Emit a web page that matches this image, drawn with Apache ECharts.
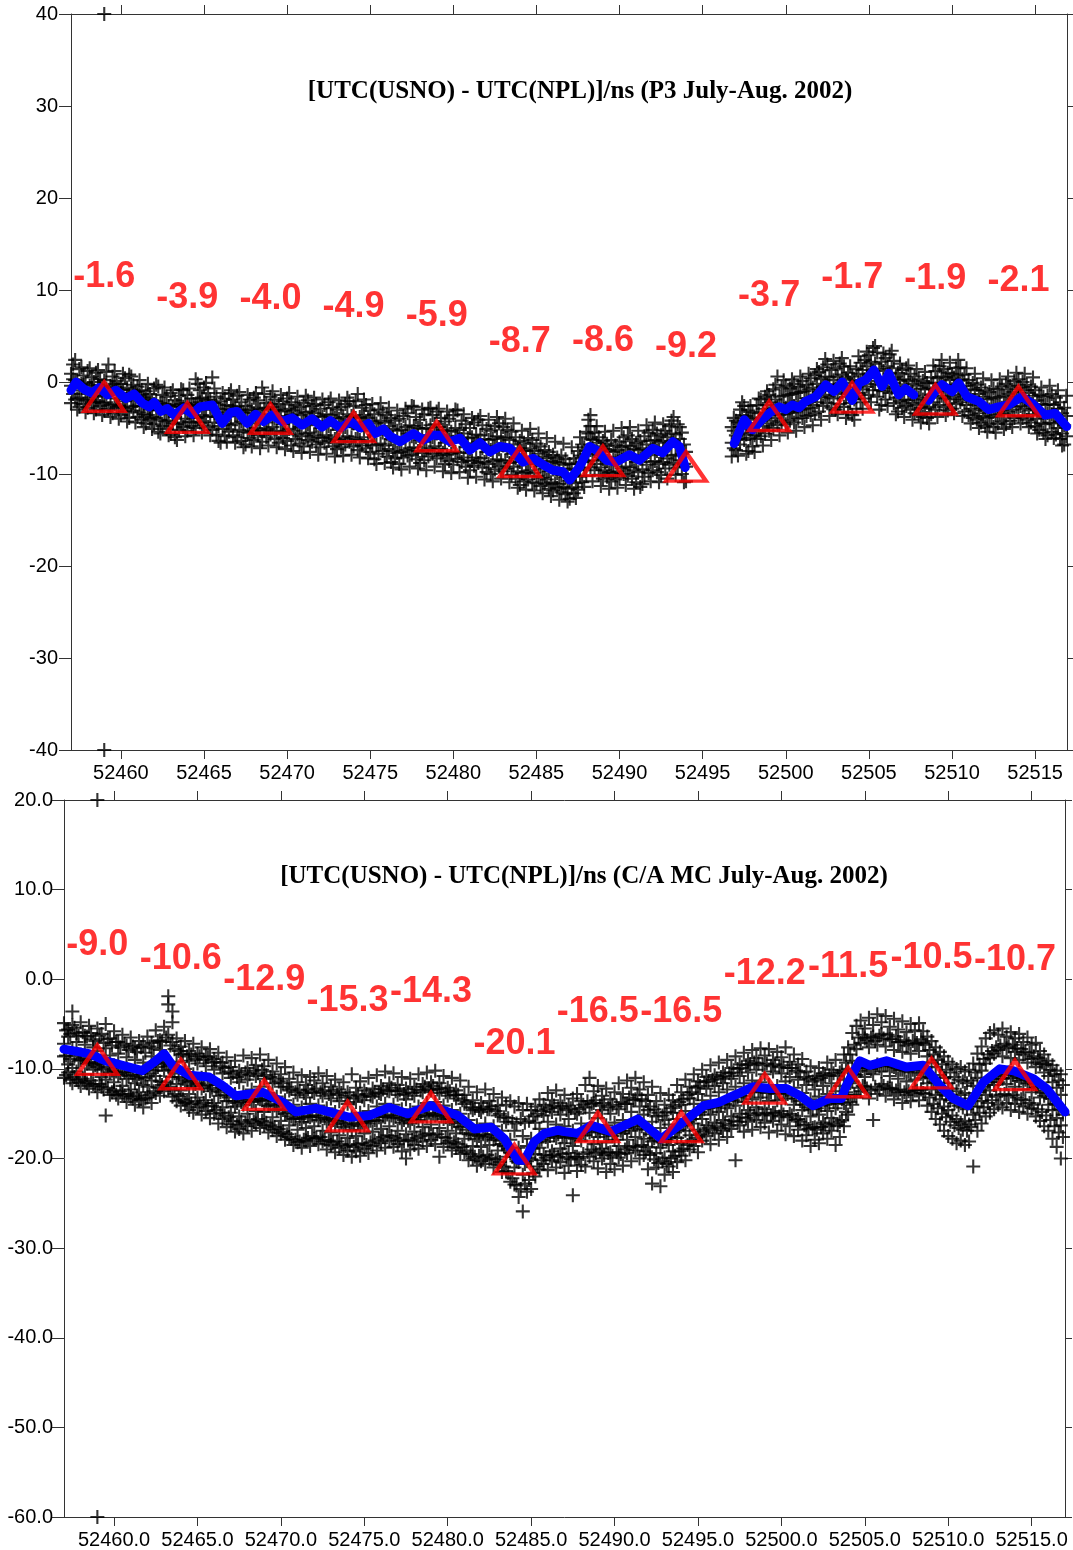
<!DOCTYPE html>
<html><head><meta charset="utf-8">
<script src="https://cdn.jsdelivr.net/npm/echarts@6/dist/echarts.min.js"></script>
<style>html,body{margin:0;padding:0;background:#fff}#c{width:1073px;height:1550px}</style>
</head><body><div id="c"></div>
<script>
const xTicks = [52460,52465,52470,52475,52480,52485,52490,52495,52500,52505,52510,52515];
const triDays = [52459,52464,52469,52474,52479,52484,52489,52494,52499,52504,52509,52514];
const p3Tri = [-1.6,-3.9,-4.0,-4.9,-5.9,-8.7,-8.6,-9.2,-3.7,-1.7,-1.9,-2.1];
const caTri = [-9.0,-10.6,-12.9,-15.3,-14.3,-20.1,-16.5,-16.5,-12.2,-11.5,-10.5,-10.7];
const p3Title = '[UTC(USNO) - UTC(NPL)]/ns (P3 July-Aug. 2002)';
const caTitle = '[UTC(USNO) - UTC(NPL)]/ns (C/A MC July-Aug. 2002)';

const p3Line = [[52457.0,-0.9],[52457.3,0.0],[52457.8,-0.8],[52458.25,-1.2],[52458.7,-0.6],[52459.2,-1.4],[52459.7,-0.9],[52460.3,-1.8],[52460.8,-1.3],[52461.3,-2.3],[52461.7,-2.7],[52462.0,-2.2],[52462.4,-3.2],[52462.8,-2.9],[52463.2,-3.6],[52463.8,-2.8],[52464.3,-3.5],[52464.75,-2.7],[52465.5,-2.5],[52466.1,-4.5],[52466.6,-3.3],[52467.0,-3.2],[52467.6,-4.5],[52468.1,-3.5],[52468.6,-4.3],[52469.1,-3.6],[52469.7,-4.3],[52470.3,-3.9],[52470.9,-4.7],[52471.5,-4.0],[52472.1,-4.9],[52472.6,-4.2],[52473.2,-5.0],[52473.8,-4.3],[52474.4,-5.0],[52474.9,-4.5],[52475.3,-5.6],[52475.8,-5.1],[52476.2,-5.9],[52476.8,-6.5],[52477.6,-5.6],[52478.2,-6.3],[52478.7,-5.8],[52479.2,-5.8],[52479.8,-6.5],[52480.4,-6.1],[52481.0,-7.4],[52481.6,-6.6],[52482.2,-7.6],[52482.8,-7.0],[52483.4,-7.2],[52484.2,-8.7],[52484.8,-8.3],[52485.4,-9.0],[52486.0,-9.6],[52486.6,-9.75],[52487.0,-10.65],[52487.6,-9.2],[52488.2,-7.0],[52488.6,-7.4],[52489.2,-8.5],[52489.8,-8.7],[52490.6,-7.9],[52491.2,-8.5],[52492.0,-7.2],[52492.6,-7.7],[52493.2,-6.5],[52493.6,-7.0],[52493.95,-9.3],
[52495.5,'-'],
[52496.9,-6.7],[52497.5,-4.1],[52498.0,-5.2],[52498.5,-4.2],[52499.0,-3.4],[52499.6,-2.7],[52500.0,-3.0],[52500.4,-2.5],[52500.8,-2.8],[52501.2,-2.1],[52501.8,-1.6],[52502.4,-0.3],[52502.9,-1.05],[52503.4,0.0],[52504.0,-2.0],[52504.4,-0.1],[52504.8,0.2],[52505.3,1.3],[52505.8,-0.5],[52506.2,0.95],[52506.8,-1.4],[52507.2,-0.7],[52507.7,-1.4],
[52508.1,'-'],
[52508.6,-2.0],[52509.0,-1.0],[52509.4,-0.3],[52510.0,-1.05],[52510.4,-0.1],[52510.9,-1.6],[52511.6,-2.1],[52512.2,-3.0],[52512.8,-2.7],[52513.4,-2.5],[52514.2,-1.6],[52514.8,-2.3],[52515.6,-3.6],[52516.2,-3.4],[52516.9,-4.85]];

const caLine = [[52457.0,-7.8],[52458.5,-8.3],[52459.5,-9.1],[52460.5,-9.6],[52461.7,-10.2],[52462.5,-9.1],[52463.0,-8.3],[52463.5,-9.6],[52464.5,-10.7],[52465.7,-10.9],[52466.5,-11.85],[52467.3,-13.0],[52468.1,-12.8],[52468.9,-12.6],[52470.1,-13.7],[52470.9,-14.8],[52472.1,-14.4],[52472.9,-14.8],[52474.1,-15.4],[52475.3,-15.2],[52476.5,-14.3],[52477.6,-15.0],[52479.0,-14.1],[52480.6,-15.2],[52481.6,-16.7],[52482.6,-16.5],[52483.4,-17.8],[52484.2,-20.2],[52484.6,-20.2],[52485.2,-18.1],[52485.8,-17.2],[52486.6,-16.85],[52487.0,-17.0],[52487.8,-17.2],[52488.6,-16.3],[52489.8,-17.0],[52491.4,-15.6],[52492.8,-17.8],[52494.0,-16.1],[52495.35,-14.1],[52496.3,-13.7],[52497.0,-13.1],[52498.3,-12.0],[52499.3,-12.2],[52500.3,-12.2],[52501.1,-12.96],[52501.9,-14.1],[52502.9,-13.3],[52503.6,-13.3],[52503.9,-11.85],[52504.7,-9.1],[52505.3,-9.6],[52506.3,-9.1],[52507.5,-9.8],[52508.5,-9.6],[52509.5,-11.85],[52510.3,-13.3],[52511.2,-14.1],[52512.1,-11.5],[52513.1,-10.0],[52513.9,-10.2],[52515.1,-11.1],[52515.9,-12.2],[52517.0,-14.8]];

const p3Clipped = [[52459.0,40],[52459.0,-40]];
const caClipped = [[52459.0,20],[52459.0,-60]];

const p3Rows = [
[52457.00,0.9,-0.4,-2.3],[52457.25,2.4,0.2,-1.9],[52457.50,1.4,-0.9,-2.7],[52457.75,0.7,-0.3,-2.4],
[52458.00,1.2,-1.3,-2.8],[52458.25,0.5,-0.7,-2.2],[52458.50,1.0,-1.6,-3.0],[52458.75,0.3,-0.8,-2.6],
[52459.00,0.2,-1.5,-3.1],[52459.25,1.9,-1.1,-2.9],[52459.50,0.6,-0.6,-3.4],[52459.75,0.1,-1.8,-2.7],
[52460.00,-0.2,-1.2,-3.6],[52460.25,0.4,-2.1,-3.2],[52460.50,0.8,-1.4,-3.9],[52460.75,-0.3,-2.0,-3.1],
[52461.00,-0.5,-1.6,-3.8],[52461.25,-0.9,-2.6,-4.1],[52461.50,-1.0,-2.2,-4.5],[52461.75,-1.3,-3.0,-4.0],
[52462.00,-0.7,-2.4,-4.6],[52462.25,-0.5,-3.1,-5.4],[52462.50,-1.4,-2.8,-4.8],[52462.75,-1.6,-3.5,-5.1],
[52463.00,-1.2,-3.0,-5.6],[52463.25,-2.0,-3.8,-6.0],[52463.50,-1.5,-3.2,-5.2],[52463.75,-0.9,-2.7,-4.9],
[52464.00,-1.4,-3.4,-5.3],[52464.25,-1.8,-3.1,-4.8],[52464.50,0.3,-2.6,-5.0],[52464.75,-0.9,-2.2,-4.4],
[52465.00,-0.6,-3.0,-4.7],[52465.25,-1.2,-2.3,-4.9],[52465.50,0.5,-2.9,-5.2],[52465.75,-1.6,-3.8,-5.7],
[52466.00,-2.1,-4.0,-6.6],[52466.25,-1.8,-3.3,-5.9],[52466.50,-1.3,-3.6,-5.4],[52466.75,-1.9,-3.1,-5.8],
[52467.00,-1.5,-3.7,-6.0],[52467.25,-2.2,-4.3,-6.4],[52467.50,-2.6,-4.0,-6.8],[52467.75,-1.9,-4.5,-6.1],
[52468.00,-1.7,-3.4,-6.3],[52468.25,-2.0,-4.1,-5.8],[52468.50,-0.6,-3.8,-6.5],[52468.75,-2.3,-4.4,-6.0],
[52469.00,-1.6,-3.5,-5.7],[52469.25,-1.9,-4.0,-6.2],[52469.50,-2.4,-3.7,-6.6],[52469.75,-2.1,-4.6,-6.1],
[52470.00,-1.8,-3.9,-6.4],[52470.25,-2.2,-3.6,-6.9],[52470.50,-2.5,-4.4,-6.2],[52470.75,-2.7,-4.9,-6.7],
[52471.00,-2.3,-4.2,-7.0],[52471.25,-2.0,-4.6,-6.3],[52471.50,-2.6,-3.8,-6.5],[52471.75,-2.4,-4.7,-6.8],
[52472.00,-2.9,-5.0,-7.1],[52472.25,-2.5,-4.3,-6.6],[52472.50,-2.2,-4.8,-6.4],[52472.75,-2.8,-4.5,-7.0],
[52473.00,-3.0,-5.2,-7.3],[52473.25,-2.7,-4.6,-7.1],[52473.50,-2.4,-4.9,-6.8],[52473.75,-2.1,-4.2,-6.5],
[52474.00,-2.6,-4.5,-7.0],[52474.25,-1.3,-5.1,-7.4],[52474.50,-2.8,-4.7,-6.9],[52474.75,-2.5,-4.4,-7.2],
[52475.00,-3.1,-5.3,-7.6],[52475.25,-3.5,-5.8,-8.4],[52475.50,-3.0,-5.1,-7.8],[52475.75,-3.3,-5.5,-7.5],
[52476.00,-3.6,-5.7,-8.1],[52476.25,-3.9,-6.2,-8.7],[52476.50,-4.2,-6.4,-8.3],[52476.75,-4.0,-6.6,-8.9],
[52477.00,-3.7,-6.1,-8.2],[52477.25,-3.4,-5.6,-8.0],[52477.50,-2.6,-5.9,-7.9],[52477.75,-3.8,-6.0,-8.4],
[52478.00,-4.1,-6.3,-8.8],[52478.25,-3.5,-6.5,-8.5],[52478.50,-2.9,-5.8,-8.1],[52478.75,-3.6,-6.0,-7.8],
[52479.00,-3.2,-5.6,-8.3],[52479.25,-3.9,-6.2,-8.0],[52479.50,-4.3,-6.6,-8.9],[52479.75,-4.0,-6.3,-8.6],
[52480.00,-3.6,-6.5,-9.0],[52480.25,-3.1,-5.9,-8.4],[52480.50,-4.2,-6.2,-8.7],[52480.75,-4.6,-7.1,-9.2],
[52481.00,-5.0,-7.3,-9.6],[52481.25,-4.4,-6.8,-9.1],[52481.50,-4.1,-6.5,-8.8],[52481.75,-4.7,-7.2,-9.3],
[52482.00,-5.1,-7.6,-9.8],[52482.25,-5.3,-7.4,-10.0],[52482.50,-4.8,-7.0,-9.5],[52482.75,-4.5,-7.3,-9.2],
[52483.00,-4.9,-6.9,-9.7],[52483.25,-5.2,-7.5,-9.4],[52483.50,-5.4,-7.8,-10.1],[52483.75,-6.0,-8.3,-10.5],
[52484.00,-6.4,-8.7,-11.2],[52484.25,-6.6,-8.4,-10.8],[52484.50,-6.1,-8.9,-10.6],[52484.75,-6.3,-8.2,-10.9],
[52485.00,-6.7,-8.8,-11.0],[52485.25,-7.0,-9.1,-11.3],[52485.50,-7.4,-9.4,-11.1],[52485.75,-7.6,-9.7,-11.6],
[52486.00,-7.9,-9.5,-11.8],[52486.25,-8.2,-9.9,-11.5],[52486.50,-8.0,-10.1,-12.0],[52486.75,-8.4,-10.3,-12.2],
[52487.00,-8.9,-10.7,-12.7],[52487.25,-8.3,-10.2,-12.1],[52487.50,-7.5,-9.6,-11.7],[52487.75,-6.8,-8.7,-10.9],
[52488.00,-5.4,-7.8,-10.2],[52488.25,-3.6,-4.8,-6.2,-7.4,-9.3],[52488.50,-5.5,-7.5,-9.6],[52488.75,-6.0,-7.9,-10.1],
[52489.00,-6.4,-8.4,-10.5],[52489.25,-6.7,-8.6,-10.3],[52489.50,-6.3,-8.8,-10.8],[52489.75,-6.9,-8.5,-10.6],
[52490.00,-6.5,-8.2,-10.4],[52490.25,-6.0,-8.0,-10.0],[52490.50,-5.8,-7.8,-10.2],[52490.75,-6.2,-8.4,-10.5],
[52491.00,-6.6,-8.7,-10.9],[52491.25,-6.4,-8.3,-11.4],[52491.50,-5.9,-8.0,-10.3],[52491.75,-5.5,-7.6,-9.9],
[52492.00,-5.2,-7.3,-9.6],[52492.25,-5.6,-7.5,-9.8],[52492.50,-5.8,-7.9,-10.1],[52492.75,-5.3,-7.1,-9.4],
[52493.00,-4.8,-6.9,-9.0],[52493.25,-3.8,-6.4,-8.8],[52493.50,-4.6,-6.9,-9.3],[52493.75,-5.5,-7.8,-10.0],
[52494.00,-7.6,-9.2,-10.8],
[52496.75,-4.9,-6.6,-8.1],[52497.00,-4.2,-5.8,-7.4],[52497.25,-3.0,-4.9,-6.8],[52497.50,-2.6,-4.4,-6.3],
[52497.75,-3.1,-4.8,-7.5],[52498.00,-3.3,-5.2,-7.0],[52498.25,-2.5,-4.5,-6.2],[52498.50,-1.9,-4.0,-5.9],
[52498.75,-1.6,-3.6,-5.6],[52499.00,-1.4,-3.4,-5.3],[52499.25,-0.8,-3.0,-5.0],[52499.50,0.6,-2.7,-4.7],
[52499.75,-0.6,-2.5,-4.4],[52500.00,-0.4,-2.8,-4.6],[52500.25,-0.7,-2.3,-4.2],[52500.50,-0.2,-2.6,-4.4],
[52500.75,-0.5,-2.1,-4.0],[52501.00,0.1,-2.4,-3.9],[52501.25,-0.3,-1.8,-3.7],[52501.50,0.4,-2.0,-3.6],
[52501.75,0.7,-1.5,-3.4],[52502.00,1.1,-1.1,-3.2],[52502.25,1.6,-0.5,-2.6],[52502.50,1.9,-0.3,-2.3],
[52502.75,1.3,-0.9,-2.8],[52503.00,1.5,-0.7,-3.0],[52503.25,2.0,-0.2,-2.4],[52503.50,1.7,-0.4,-2.7],
[52503.75,1.0,-1.2,-3.3],[52504.00,0.6,-1.5,-3.6],[52504.25,1.4,-0.6,-2.9],[52504.50,2.1,0.1,-2.2],
[52504.75,2.4,0.3,-1.8],[52505.00,2.9,0.8,-1.4],[52505.25,3.7,1.2,-0.9],[52505.50,3.2,0.4,-1.6],
[52505.75,2.2,-0.3,-2.5],[52506.00,2.6,0.2,-1.9],[52506.25,3.0,0.9,-1.2],[52506.50,2.3,-0.1,-2.3],
[52506.75,1.0,-1.1,-3.2],[52507.00,1.3,-0.9,-2.8],[52507.25,1.5,-0.6,-2.6],[52507.50,0.9,-1.3,-3.0],
[52507.75,0.6,-1.5,-3.4],[52508.00,0.3,-1.7,-3.6],[52508.25,0.1,-1.9,-3.8],[52508.50,-0.1,-2.0,-3.9],
[52508.75,0.5,-1.4,-3.5],[52509.00,1.2,-0.8,-3.0],[52509.25,1.7,-0.4,-2.5],[52509.50,1.4,-0.6,-2.7],
[52509.75,1.0,-1.0,-3.1],[52510.00,0.9,-0.8,-2.9],[52510.25,1.5,-0.3,-2.4],[52510.50,1.6,-0.5,-2.2],
[52510.75,0.8,-1.3,-3.2],[52511.00,0.2,-1.8,-3.6],[52511.25,-0.1,-2.0,-3.9],[52511.50,-0.3,-2.2,-4.1],
[52511.75,-0.6,-2.5,-4.4],[52512.00,-0.9,-2.9,-4.8],[52512.25,-1.1,-3.0,-4.6],[52512.50,-0.7,-2.7,-4.9],
[52512.75,-0.8,-2.6,-4.5],[52513.00,-0.5,-2.8,-4.3],[52513.25,-0.2,-2.4,-4.6],[52513.50,-0.4,-2.2,-4.2],
[52513.75,0.1,-1.9,-3.9],[52514.00,0.3,-1.6,-3.7],[52514.25,0.0,-1.8,-3.9],[52514.50,-0.3,-2.2,-4.1],
[52514.75,-0.5,-2.4,-4.4],[52515.00,-0.9,-2.9,-4.8],[52515.25,-1.4,-3.3,-5.2],[52515.50,-1.6,-3.7,-5.5],
[52515.75,-1.5,-3.4,-5.8],[52516.00,-1.3,-3.5,-5.4],[52516.25,-1.7,-3.6,-5.7],[52516.50,-2.2,-4.3,-6.2],
[52516.75,-2.8,-4.7,-6.8]
];

const p3RowsMid = [
[52457.125,0.3,-1.3,1.9],[52457.375,0.1,-1.8,-3.0],[52457.625,-0.2,-1.7,1.6],[52457.875,-0.1,-2.0,-3.3],
[52458.125,-0.4,-1.9,1.5],[52458.375,0.0,-2.2,-3.4],[52458.625,-0.3,-2.1,1.3],[52458.875,-0.5,-2.3,-3.6],
[52459.125,-0.7,-2.2,1.1],[52459.375,-0.4,-2.5,-3.8],[52459.625,-0.2,-2.4,1.2],[52459.875,-0.8,-2.6,-4.0],
[52460.125,-0.9,-2.8,0.9],[52460.375,-0.6,-2.9,-4.3],[52460.625,-0.8,-2.7,0.6],[52460.875,-1.1,-2.6,-4.4],
[52461.125,-1.4,-3.3,0.2],[52461.375,-1.7,-3.5,-4.9],[52461.625,-1.9,-3.6,-0.2],[52461.875,-2.0,-3.8,-5.1],
[52462.125,-2.1,-3.9,-0.3],[52462.375,-2.3,-4.1,-5.6],[52462.625,-2.4,-4.3,-0.6],[52462.875,-2.6,-4.2,-5.8],
[52463.125,-2.7,-4.5,-0.9],[52463.375,-2.5,-4.6,-6.3],[52463.625,-2.4,-4.4,-0.8],[52463.875,-2.3,-4.0,-5.9],
[52464.125,-2.5,-4.3,-0.7],[52464.375,-2.4,-4.4,-5.8],[52464.625,-1.8,-3.9,-0.2],[52464.875,-1.7,-3.6,-5.5],
[52465.125,-2.0,-3.8,-0.1],[52465.375,-1.9,-3.7,-5.8],[52465.625,-2.3,-4.4,-0.7],[52465.875,-2.9,-4.8,-6.4],
[52466.125,-3.0,-5.1,-1.2],[52466.375,-2.5,-4.6,-6.5],[52466.625,-2.6,-4.7,-0.9],[52466.875,-2.7,-4.5,-6.6],
[52467.125,-3.0,-5.2,-1.1],[52467.375,-3.3,-5.4,-7.1],[52467.625,-3.1,-5.5,-1.4],[52467.875,-3.0,-5.3,-7.0],
[52468.125,-2.8,-5.0,-1.2],[52468.375,-3.0,-5.2,-7.2],[52468.625,-2.9,-5.3,-1.3],[52468.875,-2.8,-5.1,-6.9],
[52469.125,-2.7,-4.9,-1.0],[52469.375,-3.0,-5.3,-7.1],[52469.625,-3.2,-5.4,-1.4],[52469.875,-3.1,-5.5,-7.3],
[52470.125,-2.9,-5.1,-1.2],[52470.375,-3.1,-5.3,-7.5],[52470.625,-3.4,-5.7,-1.6],[52470.875,-3.6,-5.9,-7.7],
[52471.125,-3.3,-5.6,-1.5],[52471.375,-3.2,-5.5,-7.6],[52471.625,-3.4,-5.8,-1.7],[52471.875,-3.7,-6.0,-7.9],
[52472.125,-3.8,-6.1,-1.9],[52472.375,-3.5,-5.8,-7.8],[52472.625,-3.6,-6.0,-1.8],[52472.875,-3.9,-6.2,-8.1],
[52473.125,-4.0,-6.3,-2.0],[52473.375,-3.8,-6.1,-8.0],[52473.625,-3.5,-5.9,-1.7],[52473.875,-3.7,-6.0,-7.9],
[52474.125,-3.9,-6.2,-2.1],[52474.375,-3.8,-6.3,-8.2],[52474.625,-3.6,-6.0,-1.9],[52474.875,-3.9,-6.4,-8.3],
[52475.125,-4.3,-6.9,-2.4],[52475.375,-4.5,-6.8,-8.9],[52475.625,-4.2,-6.7,-2.3],[52475.875,-4.4,-6.9,-8.8],
[52476.125,-4.8,-7.3,-2.8],[52476.375,-5.1,-7.5,-9.3],[52476.625,-5.3,-7.7,-3.1],[52476.875,-5.2,-7.6,-9.5],
[52477.125,-4.9,-7.4,-2.9],[52477.375,-4.7,-7.2,-9.2],[52477.625,-4.8,-7.1,-2.7],[52477.875,-5.0,-7.5,-9.4],
[52478.125,-5.1,-7.7,-3.0],[52478.375,-5.0,-7.4,-9.6],[52478.625,-4.7,-7.2,-2.8],[52478.875,-4.6,-7.0,-9.2],
[52479.125,-4.9,-7.3,-2.9],[52479.375,-5.2,-7.7,-9.7],[52479.625,-5.3,-7.9,-3.2],[52479.875,-5.4,-7.8,-9.9],
[52480.125,-5.0,-7.6,-3.0],[52480.375,-5.2,-7.7,-9.8],[52480.625,-5.6,-8.2,-3.5],[52480.875,-6.1,-8.5,-10.4],
[52481.125,-6.0,-8.6,-3.9],[52481.375,-5.7,-8.2,-10.3],[52481.625,-5.8,-8.3,-3.7],[52481.875,-6.2,-8.7,-10.6],
[52482.125,-6.3,-8.9,-4.1],[52482.375,-6.2,-8.6,-10.8],[52482.625,-5.9,-8.4,-3.8],[52482.875,-6.0,-8.5,-10.5],
[52483.125,-6.1,-8.6,-4.0],[52483.375,-6.3,-8.8,-10.9],[52483.625,-6.8,-9.2,-4.5],[52483.875,-7.2,-9.7,-11.5],
[52484.125,-7.5,-9.9,-5.3],[52484.375,-7.4,-9.8,-11.7],[52484.625,-7.2,-9.6,-5.1],[52484.875,-7.5,-9.9,-11.8],
[52485.125,-7.8,-10.2,-5.6],[52485.375,-8.1,-10.4,-12.1],[52485.625,-8.3,-10.6,-6.1],[52485.875,-8.6,-10.9,-12.4],
[52486.125,-8.7,-11.0,-6.5],[52486.375,-8.8,-11.1,-12.8],[52486.625,-9.0,-11.4,-6.7],[52486.875,-9.5,-11.6,-13.0],
[52487.125,-9.4,-11.5,-7.1],[52487.375,-8.9,-11.0,-12.6],[52487.625,-8.0,-10.3,-6.0],[52487.875,-7.1,-9.4,-11.4],
[52488.125,-4.1,-5.6,-8.6],[52488.375,-6.3,-8.5,-10.8],[52488.625,-6.6,-8.9,-4.8],[52488.875,-7.0,-9.3,-11.3],
[52489.125,-7.3,-9.6,-5.4],[52489.375,-7.5,-9.8,-11.6],[52489.625,-7.6,-9.9,-5.3],[52489.875,-7.4,-9.7,-11.5],
[52490.125,-7.1,-9.4,-5.0],[52490.375,-6.9,-9.2,-11.2],[52490.625,-7.0,-9.3,-4.9],[52490.875,-7.3,-9.6,-11.6],
[52491.125,-7.4,-9.8,-5.3],[52491.375,-7.2,-9.5,-11.1],[52491.625,-6.8,-9.0,-4.7],[52491.875,-6.4,-8.7,-10.8],
[52492.125,-6.3,-8.6,-4.4],[52492.375,-6.6,-8.9,-10.9],[52492.625,-6.4,-8.7,-4.6],[52492.875,-6.0,-8.3,-10.5],
[52493.125,-5.6,-8.0,-4.2],[52493.375,-5.7,-7.9,-10.1],[52493.625,-6.2,-8.5,-4.9],[52493.875,-6.8,-8.9,-10.9],
[52496.875,-5.3,-7.2,-3.9],[52497.125,-4.4,-6.2,-8.0],[52497.375,-3.6,-5.5,-2.2],[52497.625,-3.7,-5.7,-7.8],
[52497.875,-4.1,-6.1,-2.6],[52498.125,-3.9,-5.8,-7.6],[52498.375,-3.4,-5.3,-1.8],[52498.625,-2.9,-4.8,-6.9],
[52498.875,-2.5,-4.5,-1.0],[52499.125,-2.2,-4.2,-6.3],[52499.375,-1.9,-3.9,-0.3],[52499.625,-1.6,-3.6,-5.8],
[52499.875,-1.5,-3.5,0.2],[52500.125,-1.4,-3.4,-5.5],[52500.375,-1.3,-3.3,0.3],[52500.625,-1.2,-3.2,-5.3],
[52500.875,-1.1,-3.0,0.6],[52501.125,-1.0,-2.9,-4.9],[52501.375,-0.8,-2.8,0.9],[52501.625,-0.6,-2.5,-4.7],
[52501.875,-0.2,-2.2,1.4],[52502.125,0.3,-1.7,-4.1],[52502.375,0.6,-1.4,2.5],[52502.625,0.5,-1.6,-3.7],
[52502.875,0.2,-1.8,2.3],[52503.125,0.6,-1.3,-3.5],[52503.375,0.8,-1.1,2.6],[52503.625,0.4,-1.6,-3.9],
[52503.875,-0.1,-2.3,1.7],[52504.125,0.2,-1.9,-4.1],[52504.375,0.9,-1.2,2.8],[52504.625,1.3,-0.8,-2.9],
[52504.875,1.7,-0.5,3.3],[52505.125,2.2,0.1,-2.2],[52505.375,2.0,-0.2,3.9],[52505.625,1.4,-0.9,-3.0],
[52505.875,1.2,-1.0,3.1],[52506.125,1.7,-0.5,-2.6],[52506.375,1.5,-0.7,3.4],[52506.625,0.5,-1.7,-3.5],
[52506.875,0.2,-2.1,2.0],[52507.125,0.3,-1.9,-3.8],[52507.375,0.1,-2.0,1.8],[52507.625,-0.2,-2.3,-4.1],
[52507.875,-0.4,-2.5,1.4],[52508.125,-0.7,-2.8,-4.4],[52508.375,-0.8,-2.9,1.1],[52508.625,-0.6,-2.7,-4.5],
[52508.875,-0.1,-2.2,1.8],[52509.125,0.4,-1.7,-3.8],[52509.375,0.6,-1.5,2.4],[52509.625,0.5,-1.8,-3.6],
[52509.875,0.2,-1.9,2.1],[52510.125,0.5,-1.6,-3.4],[52510.375,0.7,-1.4,2.4],[52510.625,0.3,-1.9,-3.7],
[52510.875,-0.4,-2.5,1.5],[52511.125,-0.8,-2.9,-4.5],[52511.375,-0.9,-3.1,0.9],[52511.625,-1.3,-3.4,-5.0],
[52511.875,-1.6,-3.7,0.4],[52512.125,-1.9,-3.9,-5.4],[52512.375,-1.8,-3.8,0.2],[52512.625,-1.7,-3.6,-5.5],
[52512.875,-1.6,-3.5,0.3],[52513.125,-1.5,-3.4,-5.1],[52513.375,-1.3,-3.2,0.6],[52513.625,-1.1,-3.0,-4.9],
[52513.875,-0.8,-2.7,1.0],[52514.125,-0.6,-2.6,-4.5],[52514.375,-0.9,-2.9,0.9],[52514.625,-1.2,-3.1,-4.9],
[52514.875,-1.5,-3.5,0.5],[52515.125,-2.0,-4.0,-5.6],[52515.375,-2.4,-4.5,-0.6],[52515.625,-2.5,-4.6,-6.2],
[52515.875,-2.4,-4.4,-0.4],[52516.125,-2.5,-4.5,-6.1],[52516.375,-2.9,-5.0,-0.9],[52516.625,-3.4,-5.6,-6.9],
[52516.875,-3.7,-5.9,-1.5]
];

const caRows = [
[52457.00,-4.9,-7.2,-8.6,-11.0],[52457.25,-5.6,-6.4,-9.5,-10.4],[52457.50,-3.6,-5.1,-7.7,-9.9,-11.6],[52457.75,-6.0,-7.0,-10.3,-11.2],
[52458.00,-4.8,-8.4,-9.0,-11.9],[52458.25,-6.3,-7.3,-10.6,-11.4],[52458.50,-5.2,-8.9,-9.3,-12.2],[52458.75,-6.7,-7.6,-10.1,-11.7],
[52459.00,-5.5,-8.0,-9.8,-12.6],[52459.25,-6.1,-9.5,-10.9,-12.0],[52459.50,-5.0,-7.7,-11.2,-15.2],[52459.75,-6.6,-8.5,-10.4,-12.9],
[52460.00,-5.8,-9.6,-11.5,-12.4],[52460.25,-7.0,-8.3,-10.7,-13.3],[52460.50,-6.2,-9.9,-11.9,-12.8],[52460.75,-7.4,-8.7,-11.1,-13.7],
[52461.00,-6.5,-10.3,-12.3,-13.1],[52461.25,-7.7,-9.0,-11.6,-14.0],[52461.50,-6.9,-10.6,-12.6,-13.5],[52461.75,-7.3,-9.3,-11.8,-14.3],
[52462.00,-6.4,-10.1,-12.0,-13.2],[52462.25,-7.1,-8.6,-11.3,-13.8],[52462.50,-5.7,-9.4,-10.8,-12.7],[52462.75,-6.8,-7.9,-11.4,-13.0],
[52463.00,-5.3,-9.0,-10.2,-12.5],[52463.25,-1.9,-2.8,-6.2,-9.7,-12.3],[52463.50,-3.6,-4.8,-7.0,-10.9,-13.1],[52463.75,-6.6,-9.2,-11.7,-13.6],
[52464.00,-7.5,-8.4,-12.4,-14.1],[52464.25,-6.9,-10.0,-11.3,-13.8],[52464.50,-8.0,-9.1,-12.8,-14.6],[52464.75,-7.2,-10.6,-11.9,-14.9],
[52465.00,-8.3,-9.4,-13.2,-14.3],[52465.25,-7.6,-11.0,-12.2,-15.1],[52465.50,-8.6,-9.7,-13.5,-14.7],[52465.75,-7.8,-11.3,-12.5,-15.5],
[52466.00,-8.9,-10.1,-13.8,-15.0],[52466.25,-8.2,-11.8,-13.0,-16.1],[52466.50,-9.3,-10.5,-14.3,-15.6],[52466.75,-8.7,-12.4,-13.6,-16.5],
[52467.00,-9.8,-11.0,-14.9,-16.2],[52467.25,-9.1,-12.8,-14.2,-17.0],[52467.50,-10.2,-11.5,-15.3,-16.7],[52467.75,-8.5,-12.6,-14.0,-17.2],
[52468.00,-9.9,-11.2,-15.0,-16.4],[52468.25,-8.8,-12.3,-13.7,-16.9],[52468.50,-9.6,-10.8,-14.7,-16.1],[52468.75,-8.4,-12.0,-13.4,-16.6],
[52469.00,-9.7,-11.1,-14.8,-16.3],[52469.25,-9.0,-12.7,-14.1,-17.1],[52469.50,-10.3,-11.6,-15.4,-16.8],[52469.75,-9.4,-13.1,-14.6,-17.5],
[52470.00,-10.6,-12.0,-15.8,-17.2],[52470.25,-9.8,-13.5,-15.0,-17.9],[52470.50,-11.1,-12.4,-16.3,-17.6],[52470.75,-10.4,-14.0,-15.6,-18.5],
[52471.00,-11.5,-12.9,-16.8,-18.2],[52471.25,-10.7,-14.3,-15.9,-18.8],[52471.50,-11.8,-13.2,-16.6,-18.0],[52471.75,-10.9,-13.9,-15.4,-18.6],
[52472.00,-11.3,-12.7,-16.4,-17.8],[52472.25,-10.5,-14.1,-15.7,-18.4],[52472.50,-11.6,-13.0,-16.9,-18.1],[52472.75,-10.8,-14.4,-15.9,-19.0],
[52473.00,-12.0,-13.3,-17.1,-18.5],[52473.25,-11.2,-14.8,-16.2,-19.3],[52473.50,-12.3,-13.6,-17.4,-18.8],[52473.75,-11.5,-15.1,-16.5,-19.6],
[52474.00,-12.6,-13.9,-17.7,-19.1],[52474.25,-10.6,-15.3,-16.8,-19.8],[52474.50,-12.1,-13.7,-17.5,-19.2],[52474.75,-11.4,-14.9,-16.4,-19.7],
[52475.00,-12.4,-13.5,-17.2,-18.9],[52475.25,-11.0,-14.7,-16.1,-19.4],[52475.50,-12.2,-13.1,-17.0,-18.6],[52475.75,-10.7,-14.2,-15.8,-19.1],
[52476.00,-11.9,-12.8,-16.7,-18.3],[52476.25,-10.3,-13.9,-15.4,-18.8],[52476.50,-11.6,-12.5,-16.4,-18.0],[52476.75,-10.5,-14.0,-15.5,-18.7],
[52477.00,-11.8,-12.9,-16.9,-18.4],[52477.25,-10.9,-14.5,-16.0,-19.2],[52477.50,-12.2,-13.4,-17.3,-20.0],[52477.75,-11.1,-14.6,-16.1,-19.0],
[52478.00,-12.0,-13.0,-17.0,-18.5],[52478.25,-10.6,-14.2,-15.7,-18.9],[52478.50,-11.7,-12.6,-16.5,-18.1],[52478.75,-10.4,-13.8,-15.3,-18.6],
[52479.00,-11.5,-12.4,-16.2,-17.9],[52479.25,-10.2,-13.7,-15.2,-18.4],[52479.50,-11.6,-12.7,-16.6,-19.8],[52479.75,-10.8,-14.1,-15.6,-18.7],
[52480.00,-12.1,-13.0,-16.9,-18.3],[52480.25,-11.0,-14.6,-16.0,-19.1],[52480.50,-12.4,-13.3,-17.2,-18.8],[52480.75,-11.3,-15.0,-16.5,-19.5],
[52481.00,-12.9,-13.9,-17.8,-19.3],[52481.25,-12.0,-15.7,-17.3,-20.2],[52481.50,-13.5,-14.6,-18.6,-20.0],[52481.75,-12.6,-16.3,-17.8,-20.8],
[52482.00,-13.8,-14.8,-18.7,-20.3],[52482.25,-12.3,-16.1,-17.6,-20.6],[52482.50,-13.6,-14.5,-18.5,-20.1],[52482.75,-12.8,-16.4,-17.9,-21.0],
[52483.00,-14.1,-15.2,-19.1,-20.7],[52483.25,-13.2,-16.9,-18.4,-21.5],[52483.50,-14.0,-15.9,-19.8,-21.4],[52483.75,-13.6,-17.9,-19.4,-22.6],
[52484.00,-14.2,-16.9,-21.0,-22.9],[52484.25,-13.8,-18.8,-20.4,-24.3],[52484.50,-14.6,-17.5,-21.8,-25.9],[52484.75,-13.9,-18.6,-20.3,-23.7],
[52485.00,-14.6,-17.8,-20.1,-23.4],[52485.25,-14.2,-16.0,-19.5,-22.0],[52485.50,-13.4,-16.7,-18.8,-21.2],[52485.75,-14.0,-15.2,-19.6,-20.6],
[52486.00,-12.7,-15.9,-18.1,-21.3],[52486.25,-13.5,-14.8,-19.2,-20.2],[52486.50,-12.4,-16.2,-17.7,-21.0],[52486.75,-13.8,-15.1,-18.9,-20.4],
[52487.00,-12.9,-16.4,-18.3,-21.6],[52487.25,-14.1,-15.6,-19.4,-20.8],[52487.50,-13.3,-16.9,-18.6,-24.1],[52487.75,-12.8,-15.0,-19.8,-21.4],
[52488.00,-13.6,-16.1,-18.0,-20.7],[52488.25,-11.8,-14.3,-17.4,-20.9],[52488.50,-11.0,-14.9,-17.1,-19.8],[52488.75,-12.5,-13.8,-18.4,-20.3],
[52489.00,-11.9,-15.5,-17.6,-21.1],[52489.25,-13.0,-14.6,-18.9,-20.0],[52489.50,-12.2,-16.3,-18.2,-21.5],[52489.75,-13.4,-15.0,-19.3,-20.6],
[52490.00,-12.6,-16.0,-17.9,-21.2],[52490.25,-11.6,-14.5,-18.6,-19.9],[52490.50,-12.8,-15.7,-17.2,-20.8],[52490.75,-11.3,-13.9,-17.9,-19.4],
[52491.00,-12.1,-14.8,-16.9,-20.3],[52491.25,-11.0,-13.4,-17.6,-19.1],[52491.50,-12.3,-14.2,-16.7,-20.0],[52491.75,-11.5,-15.1,-17.8,-19.6],
[52492.00,-12.9,-14.6,-18.7,-21.2],[52492.25,-12.0,-15.9,-18.1,-22.8],[52492.50,-13.6,-15.3,-19.4,-21.0],[52492.75,-12.7,-16.6,-18.8,-23.1],
[52493.00,-14.0,-15.7,-19.9,-21.8],[52493.25,-12.9,-16.2,-18.5,-20.9],[52493.50,-13.5,-14.9,-19.2,-21.5],[52493.75,-11.8,-15.6,-17.7,-20.4],
[52494.00,-12.6,-14.0,-18.3,-19.7],[52494.25,-11.2,-14.7,-16.9,-20.2],[52494.50,-12.0,-13.3,-17.4,-19.0],[52494.75,-10.6,-13.9,-16.1,-18.6],
[52495.00,-11.4,-12.8,-16.8,-19.3],[52495.25,-10.1,-13.5,-15.6,-18.0],[52495.50,-10.9,-12.2,-16.3,-17.5],[52495.75,-9.6,-13.0,-15.1,-18.4],
[52496.00,-10.7,-11.9,-16.0,-17.2],[52496.25,-9.3,-12.6,-14.8,-17.9],[52496.50,-10.4,-11.6,-15.7,-16.9],[52496.75,-9.0,-12.3,-14.4,-17.6],
[52497.00,-9.9,-11.1,-15.3,-16.7],[52497.25,-8.6,-12.0,-14.1,-20.2],[52497.50,-9.5,-10.8,-15.0,-16.3],[52497.75,-8.2,-11.6,-13.7,-17.0],
[52498.00,-9.1,-10.4,-14.6,-15.9],[52498.25,-7.9,-11.3,-13.4,-16.8],[52498.50,-8.8,-10.1,-14.3,-15.7],[52498.75,-7.7,-11.5,-13.2,-16.5],
[52499.00,-8.5,-10.6,-14.5,-16.0],[52499.25,-7.8,-11.8,-13.6,-17.1],[52499.50,-9.0,-10.3,-14.9,-15.8],[52499.75,-8.1,-11.9,-13.5,-16.9],
[52500.00,-8.7,-10.5,-14.7,-16.2],[52500.25,-7.6,-11.4,-13.3,-17.3],[52500.50,-9.2,-10.9,-15.0,-16.4],[52500.75,-8.4,-12.1,-14.0,-17.5],
[52501.00,-9.5,-11.2,-15.6,-16.8],[52501.25,-8.9,-12.7,-14.6,-18.0],[52501.50,-10.3,-11.8,-16.2,-17.4],[52501.75,-9.7,-13.4,-15.3,-18.6],
[52502.00,-10.8,-12.3,-16.5,-17.9],[52502.25,-9.9,-13.1,-15.1,-18.3],[52502.50,-10.5,-11.9,-16.0,-17.2],[52502.75,-9.3,-12.8,-14.7,-17.8],
[52503.00,-10.1,-11.6,-15.5,-16.9],[52503.25,-9.0,-12.5,-14.4,-18.5],[52503.50,-10.4,-11.9,-15.9,-17.6],[52503.75,-8.4,-11.2,-13.8,-16.4],
[52504.00,-7.6,-10.0,-12.9,-15.1],[52504.25,-6.0,-9.1,-11.4,-14.0],[52504.50,-5.2,-7.8,-10.7,-13.2],[52504.75,-4.6,-7.1,-10.2,-12.5],
[52505.00,-5.5,-6.6,-10.9,-12.0],[52505.25,-4.3,-7.6,-9.9,-13.3],[52505.50,-5.1,-6.4,-10.6,-15.7],[52505.75,-3.9,-7.3,-9.5,-12.8],
[52506.00,-4.8,-6.1,-10.3,-11.7],[52506.25,-4.1,-7.5,-9.6,-13.0],[52506.50,-5.3,-6.7,-10.8,-12.2],[52506.75,-4.4,-7.9,-9.8,-13.4],
[52507.00,-5.6,-7.0,-11.1,-12.6],[52507.25,-4.7,-8.1,-10.1,-13.8],[52507.50,-5.9,-7.4,-11.4,-12.9],[52507.75,-5.0,-8.3,-10.4,-13.6],
[52508.00,-5.7,-7.2,-11.2,-12.4],[52508.25,-4.9,-8.0,-10.0,-13.5],[52508.50,-5.8,-7.1,-11.0,-12.7],[52508.75,-6.4,-8.6,-11.6,-14.1],
[52509.00,-6.9,-9.3,-12.3,-14.8],[52509.25,-7.6,-9.8,-12.9,-15.6],[52509.50,-8.1,-10.7,-13.4,-16.2],[52509.75,-8.6,-11.0,-14.2,-16.9],
[52510.00,-9.2,-11.6,-14.6,-17.5],[52510.25,-9.5,-12.2,-15.2,-17.8],[52510.50,-10.0,-12.5,-15.6,-18.3],[52510.75,-9.8,-12.9,-16.0,-18.0],
[52511.00,-10.3,-12.7,-15.8,-18.5],[52511.25,-10.1,-13.3,-16.2,-18.1],[52511.50,-9.4,-11.9,-15.1,-20.9],[52511.75,-8.3,-11.0,-14.2,-16.9],
[52512.00,-7.5,-10.2,-13.6,-16.1],[52512.25,-6.6,-9.4,-12.9,-15.3],[52512.50,-6.0,-8.8,-12.4,-14.9],[52512.75,-5.7,-8.3,-11.8,-14.5],
[52513.00,-6.2,-7.9,-11.5,-14.0],[52513.25,-5.5,-8.6,-11.1,-14.3],[52513.50,-6.4,-7.7,-11.7,-13.8],[52513.75,-5.9,-8.8,-11.0,-14.6],
[52514.00,-6.6,-8.1,-12.0,-13.9],[52514.25,-6.1,-9.0,-11.3,-14.8],[52514.50,-7.0,-8.4,-12.3,-14.2],[52514.75,-6.5,-9.3,-11.6,-15.0],
[52515.00,-7.3,-8.9,-12.6,-14.4],[52515.25,-7.1,-9.8,-12.1,-15.3],[52515.50,-8.0,-9.5,-13.2,-15.8],[52515.75,-8.4,-10.4,-13.0,-16.4],
[52516.00,-9.1,-10.8,-14.0,-16.9],[52516.25,-9.6,-11.5,-14.6,-17.8],[52516.50,-10.2,-12.1,-15.5,-18.7],[52516.75,-10.6,-12.9,-16.3,-20.0]
];

const caRowsMid = [
[52457.125,-5.7,-8.5,-10.7],[52457.375,-6.1,-8.9,-11.2],[52457.625,-5.4,-8.6,-10.9],[52457.875,-6.3,-9.1,-11.5],
[52458.125,-5.9,-8.8,-11.1],[52458.375,-6.4,-9.4,-11.6],[52458.625,-6.0,-9.2,-11.3],[52458.875,-6.9,-9.6,-11.9],
[52459.125,-6.3,-9.4,-11.7],[52459.375,-7.1,-10.0,-12.3],[52459.625,-6.7,-9.8,-12.1],[52459.875,-7.4,-10.2,-12.6],
[52460.125,-7.0,-10.3,-12.9],[52460.375,-7.6,-10.5,-12.5],[52460.625,-7.2,-10.4,-13.0],[52460.875,-7.9,-10.8,-12.8],
[52461.125,-7.5,-10.7,-13.3],[52461.375,-8.1,-11.1,-13.0],[52461.625,-7.6,-10.9,-13.4],[52461.875,-8.2,-11.0,-13.3],
[52462.125,-7.5,-10.5,-12.9],[52462.375,-7.7,-10.2,-12.5],[52462.625,-6.9,-9.8,-12.1],[52462.875,-7.0,-9.5,-11.8],
[52463.125,-6.5,-9.3,-11.5],[52463.375,-7.4,-10.1,-12.0],[52463.625,-7.8,-10.5,-12.8],[52463.875,-8.0,-10.9,-13.0],
[52464.125,-8.3,-11.1,-13.4],[52464.375,-8.6,-11.5,-13.7],[52464.625,-8.4,-11.4,-13.9],[52464.875,-8.9,-11.7,-13.6],
[52465.125,-8.6,-11.6,-14.0],[52465.375,-9.0,-11.9,-13.8],[52465.625,-8.7,-11.8,-14.2],[52465.875,-9.3,-12.1,-14.1],
[52466.125,-9.2,-12.3,-14.6],[52466.375,-9.7,-12.6,-14.9],[52466.625,-9.9,-12.9,-15.2],[52466.875,-10.3,-13.2,-15.4],
[52467.125,-10.5,-13.6,-15.8],[52467.375,-10.9,-13.8,-16.2],[52467.625,-10.7,-13.7,-15.9],[52467.875,-10.4,-13.5,-16.1],
[52468.125,-10.6,-13.4,-15.7],[52468.375,-10.2,-13.6,-15.9],[52468.625,-10.5,-13.3,-15.6],[52468.875,-10.1,-13.5,-15.8],
[52469.125,-10.7,-13.6,-16.0],[52469.375,-10.9,-13.9,-16.3],[52469.625,-11.1,-14.1,-16.5],[52469.875,-11.4,-14.4,-16.7],
[52470.125,-11.6,-14.6,-17.0],[52470.375,-12.0,-14.9,-17.3],[52470.625,-12.2,-15.3,-17.8],[52470.875,-12.6,-15.5,-17.9],
[52471.125,-12.4,-15.6,-18.1],[52471.375,-12.7,-15.4,-17.9],[52471.625,-12.3,-15.3,-17.7],[52471.875,-12.5,-15.2,-17.5],
[52472.125,-12.2,-15.2,-17.7],[52472.375,-12.6,-15.4,-17.6],[52472.625,-12.4,-15.5,-17.9],[52472.875,-12.8,-15.6,-18.0],
[52473.125,-12.5,-15.7,-18.2],[52473.375,-12.9,-15.8,-18.1],[52473.625,-12.7,-16.0,-18.4],[52473.875,-13.2,-16.1,-18.6],
[52474.125,-13.0,-16.3,-18.5],[52474.375,-13.3,-16.2,-18.7],[52474.625,-12.9,-16.1,-18.4],[52474.875,-13.1,-16.0,-18.3],
[52475.125,-12.8,-15.9,-18.5],[52475.375,-13.0,-15.8,-18.2],[52475.625,-12.6,-15.7,-18.0],[52475.875,-12.7,-15.4,-17.8],
[52476.125,-12.3,-15.3,-17.6],[52476.375,-12.4,-15.1,-17.4],[52476.625,-12.1,-15.2,-17.5],[52476.875,-12.5,-15.3,-17.7],
[52477.125,-12.4,-15.5,-17.9],[52477.375,-12.8,-15.7,-18.1],[52477.625,-12.6,-15.8,-18.0],[52477.875,-12.7,-15.6,-17.9],
[52478.125,-12.3,-15.4,-17.7],[52478.375,-12.4,-15.2,-17.5],[52478.625,-12.0,-15.1,-17.3],[52478.875,-12.2,-14.9,-17.2],
[52479.125,-11.9,-15.0,-17.4],[52479.375,-12.3,-15.1,-17.3],[52479.625,-12.2,-15.3,-17.6],[52479.875,-12.6,-15.4,-17.7],
[52480.125,-12.5,-15.6,-18.0],[52480.375,-12.9,-15.8,-18.2],[52480.625,-12.9,-16.1,-18.4],[52480.875,-13.5,-16.4,-18.7],
[52481.125,-13.7,-16.8,-19.1],[52481.375,-14.3,-17.2,-19.5],[52481.625,-14.4,-17.4,-19.8],[52481.875,-14.6,-17.5,-19.7],
[52482.125,-14.3,-17.3,-19.8],[52482.375,-14.5,-17.4,-19.6],[52482.625,-14.2,-17.3,-19.9],[52482.875,-14.7,-17.7,-20.1],
[52483.125,-15.0,-18.0,-20.4],[52483.375,-15.4,-18.6,-20.9],[52483.625,-15.5,-18.9,-21.6],[52483.875,-15.9,-19.8,-22.2],
[52484.125,-16.1,-20.3,-23.0],[52484.375,-15.6,-19.6,-23.4],[52484.625,-16.0,-20.6,-22.8],[52484.875,-15.8,-19.9,-22.4],
[52485.125,-15.3,-18.9,-21.6],[52485.375,-15.0,-18.2,-20.9],[52485.625,-14.7,-17.9,-20.2],[52485.875,-14.5,-17.6,-19.9],
[52486.125,-14.3,-17.5,-19.7],[52486.375,-14.1,-17.4,-19.6],[52486.625,-14.4,-17.3,-19.8],[52486.875,-14.2,-17.5,-19.5],
[52487.125,-14.6,-17.6,-19.9],[52487.375,-14.4,-17.7,-20.1],[52487.625,-14.8,-17.8,-19.8],[52487.875,-14.5,-17.4,-20.0],
[52488.125,-14.0,-17.1,-19.5],[52488.375,-13.6,-16.8,-19.3],[52488.625,-13.9,-16.7,-19.0],[52488.875,-13.5,-16.9,-19.4],
[52489.125,-14.1,-17.0,-19.2],[52489.375,-13.8,-17.2,-19.6],[52489.625,-14.3,-17.3,-19.4],[52489.875,-14.0,-17.5,-19.7],
[52490.125,-14.2,-17.1,-19.3],[52490.375,-13.7,-16.9,-19.5],[52490.625,-13.9,-16.6,-19.0],[52490.875,-13.2,-16.5,-18.8],
[52491.125,-13.5,-16.2,-18.6],[52491.375,-12.9,-16.1,-18.7],[52491.625,-13.4,-16.4,-18.5],[52491.875,-13.6,-16.8,-19.2],
[52492.125,-14.2,-17.3,-19.6],[52492.375,-14.5,-17.7,-20.1],[52492.625,-14.9,-18.0,-20.5],[52492.875,-15.2,-18.2,-20.3],
[52493.125,-14.8,-17.9,-20.6],[52493.375,-14.4,-17.6,-20.0],[52493.625,-14.2,-17.1,-19.7],[52493.875,-13.7,-16.8,-19.2],
[52494.125,-13.4,-16.3,-18.9],[52494.375,-12.9,-15.9,-18.5],[52494.625,-12.6,-15.6,-18.0],[52494.875,-12.1,-15.1,-17.7],
[52495.125,-11.9,-14.8,-17.3],[52495.375,-11.5,-14.5,-17.0],[52495.625,-11.4,-14.4,-16.6],[52495.875,-11.2,-14.3,-16.8],
[52496.125,-11.1,-14.2,-16.4],[52496.375,-10.9,-14.0,-16.6],[52496.625,-10.8,-13.9,-16.1],[52496.875,-10.5,-13.6,-16.3],
[52497.125,-10.4,-13.5,-15.8],[52497.375,-10.0,-13.2,-15.9],[52497.625,-9.9,-13.0,-15.4],[52497.875,-9.6,-12.7,-15.5],
[52498.125,-9.5,-12.6,-15.0],[52498.375,-9.3,-12.5,-15.2],[52498.625,-9.4,-12.4,-14.9],[52498.875,-9.6,-12.6,-15.1],
[52499.125,-9.4,-12.7,-15.0],[52499.375,-9.7,-12.6,-15.2],[52499.625,-9.5,-12.8,-14.9],[52499.875,-9.8,-12.7,-15.3],
[52500.125,-9.6,-12.6,-15.1],[52500.375,-9.9,-12.8,-15.4],[52500.625,-9.9,-13.0,-15.2],[52500.875,-10.2,-13.3,-15.7],
[52501.125,-10.4,-13.6,-15.9],[52501.375,-10.9,-14.0,-16.3],[52501.625,-11.1,-14.3,-16.7],[52501.875,-11.4,-14.5,-16.6],
[52502.125,-11.2,-14.4,-16.8],[52502.375,-11.0,-14.1,-16.5],[52502.625,-10.8,-14.0,-16.2],[52502.875,-10.7,-13.8,-16.4],
[52503.125,-10.5,-13.7,-16.1],[52503.375,-10.8,-13.9,-16.3],[52503.625,-10.2,-13.4,-15.7],[52503.875,-9.3,-12.6,-14.8],
[52504.125,-8.4,-11.6,-13.7],[52504.375,-7.3,-10.6,-12.9],[52504.625,-6.5,-9.9,-12.1],[52504.875,-6.2,-9.7,-11.9],
[52505.125,-6.8,-9.9,-12.2],[52505.375,-6.5,-10.0,-12.4],[52505.625,-6.9,-9.8,-12.0],[52505.875,-6.3,-9.7,-12.3],
[52506.125,-6.6,-9.6,-11.9],[52506.375,-6.2,-9.5,-12.1],[52506.625,-6.7,-9.7,-12.2],[52506.875,-6.4,-9.9,-12.4],
[52507.125,-7.0,-10.1,-12.3],[52507.375,-6.8,-10.2,-12.6],[52507.625,-7.2,-10.3,-12.5],[52507.875,-6.9,-10.1,-12.7],
[52508.125,-7.1,-10.0,-12.4],[52508.375,-6.7,-10.1,-12.3],[52508.625,-7.3,-10.4,-12.8],[52508.875,-7.9,-10.9,-13.2],
[52509.125,-8.4,-11.5,-13.9],[52509.375,-9.0,-12.1,-14.4],[52509.625,-9.5,-12.6,-15.0],[52509.875,-10.1,-13.0,-15.4],
[52510.125,-10.4,-13.5,-15.9],[52510.375,-10.9,-13.8,-16.3],[52510.625,-11.2,-14.1,-16.6],[52510.875,-11.4,-14.3,-16.8],
[52511.125,-11.6,-14.5,-16.9],[52511.375,-11.3,-14.2,-16.5],[52511.625,-10.4,-13.3,-15.7],[52511.875,-9.5,-12.6,-14.9],
[52512.125,-8.9,-12.0,-14.3],[52512.375,-8.4,-11.5,-13.8],[52512.625,-8.0,-11.1,-13.5],[52512.875,-7.6,-10.8,-13.1],
[52513.125,-7.4,-10.6,-12.9],[52513.375,-7.2,-10.5,-12.8],[52513.625,-7.5,-10.4,-13.0],[52513.875,-7.3,-10.7,-12.9],
[52514.125,-7.7,-10.8,-13.2],[52514.375,-7.8,-11.0,-13.4],[52514.625,-8.1,-11.2,-13.5],[52514.875,-8.2,-11.4,-13.8],
[52515.125,-8.6,-11.7,-14.0],[52515.375,-8.8,-12.0,-14.5],[52515.625,-9.3,-12.4,-14.8],[52515.875,-9.5,-12.7,-15.2],
[52516.125,-10.1,-13.3,-15.7],[52516.375,-10.6,-13.9,-16.4],[52516.625,-11.3,-14.5,-17.1],[52516.875,-11.8,-15.1,-17.6]
];

function flatten(rowSets, extra) {
  const out = [];
  rowSets.forEach(rows => rows.forEach(r => { for (let i = 1; i < r.length; i++) out.push([r[0], r[i]]); }));
  return out.concat(extra);
}
function triData(vals) { return triDays.map((d, i) => [d, vals[i]]); }

const AX = '#333';
const crossSym = 'path://M4.25,0H5.75V4.25H10V5.75H5.75V10H4.25V5.75H0V4.25H4.25Z';
const labelFont = 'Liberation Sans';

function xAxes(grid, minV, maxV, fmt) {
  return [
    { gridIndex: grid, type: 'value', min: minV, max: maxV, position: 'bottom',
      axisLine: { show: true, onZero: false, lineStyle: { color: AX, width: 1 } },
      axisTick: { show: true, length: 9, customValues: xTicks, lineStyle: { color: AX } },
      axisLabel: { show: true, customValues: xTicks, margin: 13, color: '#000', fontSize: 20, fontFamily: labelFont, formatter: fmt },
      splitLine: { show: false } },
    { gridIndex: grid, type: 'value', min: minV, max: maxV, position: 'top',
      axisLine: { show: true, onZero: false, lineStyle: { color: AX, width: 1 } },
      axisTick: { show: true, length: 9, customValues: xTicks, lineStyle: { color: AX } },
      axisLabel: { show: false },
      splitLine: { show: false } }
  ];
}
function yAxes(grid, minV, maxV, fmt, margin) {
  return [
    { gridIndex: grid, type: 'value', min: minV, max: maxV, interval: 10, position: 'left',
      axisLine: { show: true, onZero: false, lineStyle: { color: AX, width: 1 } },
      axisTick: { show: true, length: 12, lineStyle: { color: AX } },
      axisLabel: { show: true, margin: margin, color: '#000', fontSize: 20, fontFamily: labelFont, formatter: fmt },
      splitLine: { show: false } },
    { gridIndex: grid, type: 'value', min: minV, max: maxV, interval: 10, position: 'right',
      axisLine: { show: true, onZero: false, lineStyle: { color: AX, width: 1 } },
      axisTick: { show: true, length: 7, lineStyle: { color: AX } },
      axisLabel: { show: false },
      splitLine: { show: false } }
  ];
}
function scatterSeries(xi, yi, data) {
  return { type: 'scatter', xAxisIndex: xi, yAxisIndex: yi, data: data, symbol: crossSym, symbolSize: 14,
    itemStyle: { color: '#000' }, silent: true, z: 2, clip: true };
}
function lineSeries(xi, yi, data) {
  return { type: 'line', xAxisIndex: xi, yAxisIndex: yi, data: data, showSymbol: false, connectNulls: false,
    lineStyle: { color: '#0000ff', width: 9, join: 'round', cap: 'round' }, silent: true, z: 3, clip: true };
}
function triSeries(xi, yi, vals, off) {
  return { type: 'scatter', xAxisIndex: xi, yAxisIndex: yi, data: triData(vals), symbol: 'triangle', symbolSize: [40, 29],
    itemStyle: { color: 'rgba(0,0,0,0)', borderColor: '#ff0000', borderWidth: 4 }, silent: true, z: 4, clip: false,
    label: { show: true, position: 'inside', offset: [0, off], color: '#ff0000', fontSize: 36, fontWeight: 'bold',
      fontFamily: labelFont, formatter: p => p.value[1].toFixed(1) } };
}

const chart = echarts.init(document.getElementById('c'), null, { renderer: 'canvas' });
chart.setOption({
  animation: false,
  backgroundColor: '#fff',
  grid: [
    { left: 71, right: 6, top: 14, height: 736 },
    { left: 64, right: 8, top: 800, height: 720 }
  ],
  xAxis: xAxes(0, 52457, 52516.92, v => String(v)).concat(xAxes(1, 52457, 52517, v => v.toFixed(1))),
  yAxis: yAxes(0, -40, 40, v => String(v), 13).concat(yAxes(1, -60, 20, v => v.toFixed(1), 11)),
  series: [
    scatterSeries(0, 0, flatten([p3Rows, p3RowsMid], p3Clipped)),
    lineSeries(0, 0, p3Line),
    triSeries(0, 0, p3Tri, -120),
    scatterSeries(2, 2, flatten([caRows, caRowsMid], caClipped)),
    lineSeries(2, 2, caLine),
    triSeries(2, 2, caTri, -115)
  ],
  graphic: [
    { type: 'text', x: 580, y: 92, style: { text: p3Title, font: 'bold 25px "Liberation Serif"', fill: '#000', textAlign: 'center', textVerticalAlign: 'middle', align: 'center', verticalAlign: 'middle' } },
    { type: 'text', x: 584, y: 877, style: { text: caTitle, font: 'bold 25px "Liberation Serif"', fill: '#000', textAlign: 'center', textVerticalAlign: 'middle', align: 'center', verticalAlign: 'middle' } }
  ]
});
</script>
</body></html>
